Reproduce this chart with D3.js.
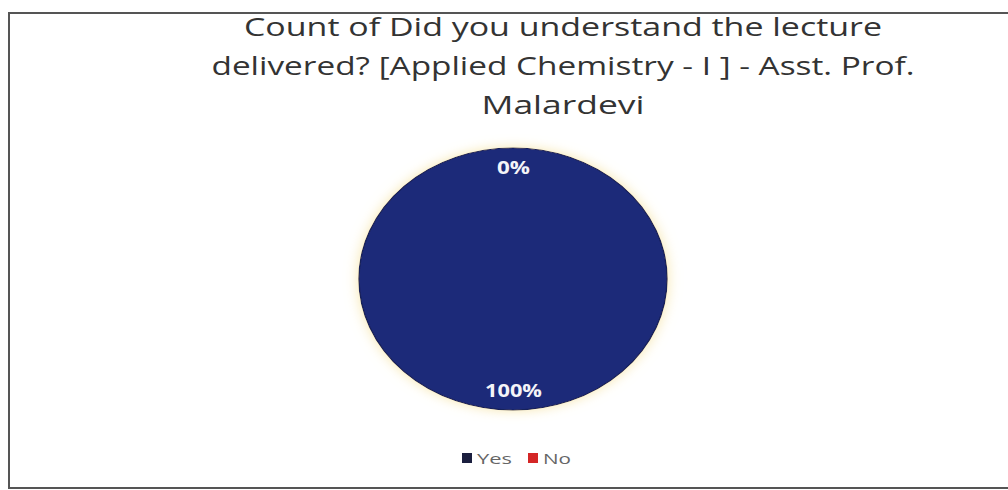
<!DOCTYPE html>
<html><head><meta charset="utf-8">
<script src="https://cdn.jsdelivr.net/npm/d3@7"></script>
<style>body{margin:0;background:#fff}svg{display:block}</style>
</head><body>
<script>
const categories = ["Yes", "No"];
const values = [100, 0];
const titleLines = ["Count of Did you understand the lecture", "delivered? [Applied Chemistry - I ] - Asst. Prof.", "Malardevi"];
const colors = ["#1d2b79", "#d42626"];
const legendColors = ["#1b1f3f", "#d42626"];

const W = 1008, H = 490;
const svg = d3.select("body").append("svg").attr("width", W).attr("height", H);
svg.append("rect").attr("width", W).attr("height", H).attr("fill", "#fff");

// frame
svg.append("path").attr("d", `M1008,13 H9 V488 H1008`).attr("fill", "none")
  .attr("stroke", "#555").attr("stroke-width", 2);

const defs = svg.append("defs");
const f = defs.append("filter").attr("id", "glow").attr("x", "-20%").attr("y", "-20%").attr("width", "140%").attr("height", "140%");
f.append("feGaussianBlur").attr("in", "SourceAlpha").attr("stdDeviation", 6).attr("result", "b");
f.append("feFlood").attr("flood-color", "#f3dc8c").attr("flood-opacity", 0.7);
f.append("feComposite").attr("in2", "b").attr("operator", "in").attr("result", "g");
const m = f.append("feMerge"); m.append("feMergeNode").attr("in", "g"); m.append("feMergeNode").attr("in", "SourceGraphic");

// title (horizontally stretched like the reference)
const titleWidths = [638, 703, 163];
const title = svg.append("g").attr("font-family", "'Open Sans', sans-serif")
  .attr("font-size", 25).attr("fill", "#333");
titleLines.forEach((t, i) => title.append("text")
  .attr("x", 563 - titleWidths[i] / 2).attr("y", 36 + i * 39)
  .attr("textLength", titleWidths[i]).attr("lengthAdjust", "spacingAndGlyphs").text(t));

const cx = 513, cy = 279, R = 131, sx = 154 / 131;
const pie = d3.pie().sort(null).value(d => d.v);
const data = pie(categories.map((c, i) => ({ c, v: values[i], i })));
const arc = d3.arc().innerRadius(0).outerRadius(R);
const total = d3.sum(values);

const g = svg.append("g").attr("transform", `translate(${cx},${cy})`);
g.append("g").attr("transform", `scale(${sx},1)`).attr("filter", "url(#glow)")
  .selectAll("path").data(data.filter(d => d.data.v > 0)).join("path")
  .attr("d", arc).attr("fill", d => colors[d.data.i])
  .attr("stroke", "#17205a").attr("stroke-width", 1.2);

const labelArc = d3.arc().innerRadius(R * 0.85).outerRadius(R * 0.85);
g.selectAll("text.lbl").data(data).join("text").attr("class", "lbl")
  .attr("x", d => labelArc.centroid(d)[0] * sx - (d.data.v / total === 1 ? 28 : 16))
  .attr("y", d => labelArc.centroid(d)[1])
  .attr("dy", "0.36em")
  .attr("font-family", "'Open Sans', sans-serif").attr("font-weight", "bold").attr("font-size", 18)
  .attr("textLength", d => d.data.v / total === 1 ? 57 : 33).attr("lengthAdjust", "spacingAndGlyphs")
  .attr("fill", "#f4f4f8")
  .text(d => Math.round(d.data.v / total * 100) + "%");

// legend
const lg = svg.append("g").attr("font-family", "'Open Sans', sans-serif").attr("font-size", 15);
const lx = [462, 528];
const lw = [35, 28];
categories.forEach((c, i) => {
  lg.append("rect").attr("x", lx[i]).attr("y", 453).attr("width", 10).attr("height", 10).attr("fill", legendColors[i]);
  lg.append("text").attr("x", lx[i] + 15).attr("y", 464).attr("fill", "#666")
    .attr("textLength", lw[i]).attr("lengthAdjust", "spacingAndGlyphs").text(c);
});
</script>
</body></html>
